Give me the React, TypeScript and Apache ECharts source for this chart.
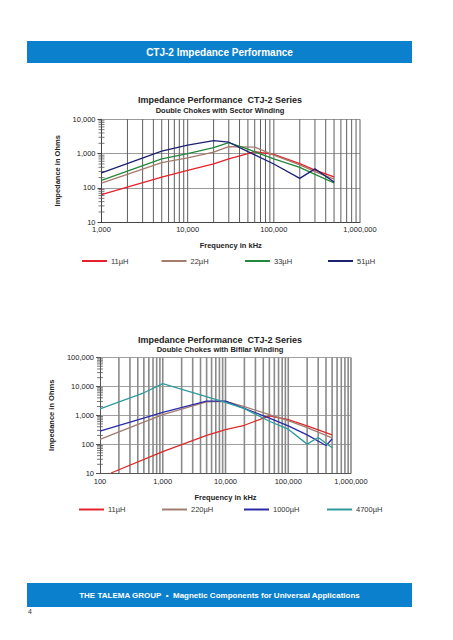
import React, { useEffect, useRef } from "react";
import * as echarts from "echarts";

// ---- Top chart: Double Chokes with Sector Winding ----
const top11F = [1000, 5000, 10000, 20000, 30000, 50000, 60000, 100000, 200000, 300000, 500000];
const top11Z = [64, 208, 323, 500, 700, 1000, 1150, 950, 510, 330, 210];
const top22F = [1000, 5000, 10000, 20000, 30000, 60000, 100000, 200000, 300000, 500000];
const top22Z = [139, 550, 750, 1100, 1600, 1550, 900, 470, 300, 180];
const top33F = [1000, 5000, 10000, 20000, 30000, 50000, 100000, 200000, 300000, 500000];
const top33Z = [166, 700, 1000, 1500, 2100, 1350, 700, 400, 250, 140];
const top51F = [1000, 5000, 10000, 20000, 30000, 50000, 100000, 200000, 300000, 500000];
const top51Z = [277, 1180, 1760, 2400, 2150, 1150, 500, 190, 360, 150];

// ---- Bottom chart: Double Chokes with Bifilar Winding ----
const bot11F = [150, 1000, 5000, 10000, 20000, 50000, 100000, 200000, 500000];
const bot11Z = [10, 55, 200, 320, 450, 950, 700, 430, 210];
const bot220F = [100, 1000, 5000, 10000, 20000, 50000, 100000, 200000, 500000];
const bot220Z = [145, 1050, 2900, 3000, 2000, 1050, 650, 370, 165];
const bot1000F = [100, 1000, 5000, 10000, 50000, 100000, 200000, 400000, 500000];
const bot1000Z = [280, 1250, 3100, 3100, 800, 430, 210, 90, 150];
const bot4700F = [100, 500, 1000, 10000, 20000, 50000, 100000, 200000, 300000, 500000];
const bot4700Z = [1650, 6000, 12500, 2800, 1700, 620, 330, 100, 170, 75];

const topNames = ["11µH", "22µH", "33µH", "51µH"];
const botNames = ["11µH", "220µH", "1000µH", "4700µH"];

const FONT = "'Liberation Sans', Arial, sans-serif";

const zip = (f: number[], z: number[]) => f.map((v, i) => [v, z[i]]);

const fmt = (v: number) => Math.round(v).toLocaleString("en-US");

function gridRenderer(xMin: number, xMax: number, yMin: number, yMax: number, vColor: string, vWidth: number) {
  return (params: any, api: any) => {
    const children: any[] = [];
    for (let d = xMin; d < xMax * 10; d *= 10) {
      for (let m = 1; m <= 9; m++) {
        const v = d * m;
        if (v <= xMin || v > xMax) continue;
        const p1 = api.coord([v, yMin]);
        const p2 = api.coord([v, yMax]);
        children.push({
          type: "line",
          shape: { x1: p1[0], y1: p1[1], x2: p2[0], y2: p2[1] },
          style: { stroke: vColor, lineWidth: vWidth },
        });
      }
    }
    for (let d = yMin; d < yMax; d *= 10) {
      for (let m = 2; m <= 9; m++) {
        const p = api.coord([xMin, d * m]);
        children.push({
          type: "line",
          shape: { x1: p[0] - 3, y1: p[1], x2: p[0] + 3, y2: p[1] },
          style: { stroke: "#555", lineWidth: 0.8 },
        });
      }
    }
    return { type: "group", children };
  };
}

function lineSeries(name: string, f: number[], z: number[], color: string, idx: number) {
  return {
    type: "line",
    name,
    data: zip(f, z),
    xAxisIndex: idx,
    yAxisIndex: idx,
    symbol: "none",
    lineStyle: { color, width: 1.3 },
    itemStyle: { color },
    z: 3,
  };
}

function legendItem(name: string, left: number, top: number) {
  return {
    data: [name],
    left,
    top,
    icon: "rect",
    itemWidth: 25,
    itemHeight: 2,
    itemGap: 0,
    padding: 0,
    textStyle: { fontSize: 7.5, color: "#333", fontFamily: FONT, padding: [0, 0, 0, -1] },
    selectedMode: false,
  };
}

const axisLabelStyle = { fontSize: 7.5, color: "#222", fontFamily: FONT };
const nameStyle = { fontSize: 7.5, color: "#222", fontWeight: "bold" as const, fontFamily: FONT };

export default function App() {
  const ref = useRef<HTMLDivElement>(null);
  useEffect(() => {
    if (!ref.current) return;
    const chart = echarts.init(ref.current, null, { renderer: "svg" });
    const topColors = ["#e5222c", "#a57b6b", "#24893b", "#1c216f"];
    const botColors = ["#dc2a2a", "#a27c72", "#2b2ba8", "#2f9b9b"];
    const option: any = {
      animation: false,
      backgroundColor: "#fff",
      textStyle: { fontFamily: FONT },
      grid: [
        { left: 101.5, top: 119.3, width: 258.5, height: 103, containLabel: false },
        { left: 100, top: 357.5, width: 251, height: 115.5, containLabel: false },
      ],
      xAxis: [
        {
          type: "log", logBase: 10, min: 1000, max: 1000000, gridIndex: 0,
          name: "Frequency in kHz", nameLocation: "middle", nameGap: 19, nameTextStyle: nameStyle,
          axisLine: { show: true, lineStyle: { color: "#444", width: 1 } },
          axisTick: { show: false },
          axisLabel: { ...axisLabelStyle, margin: 3.5, formatter: fmt },
          splitLine: { show: false },
          minorTick: { show: false }, minorSplitLine: { show: false },
        },
        {
          type: "log", logBase: 10, min: 100, max: 1000000, gridIndex: 1,
          name: "Frequency in kHz", nameLocation: "middle", nameGap: 20, nameTextStyle: nameStyle,
          axisLine: { show: true, lineStyle: { color: "#555", width: 1 } },
          axisTick: { show: false },
          axisLabel: { ...axisLabelStyle, margin: 4, formatter: fmt },
          splitLine: { show: false },
          minorTick: { show: false }, minorSplitLine: { show: false },
        },
      ],
      yAxis: [
        {
          type: "log", logBase: 10, min: 10, max: 10000, gridIndex: 0,
          name: "Impedance in Ohms", nameLocation: "middle", nameGap: 40, nameTextStyle: nameStyle,
          axisLine: { show: true, lineStyle: { color: "#444", width: 1 } },
          axisTick: { show: true, length: 4, lineStyle: { color: "#444" } },
          axisLabel: { ...axisLabelStyle, margin: 6, formatter: fmt },
          splitLine: { show: true, lineStyle: { color: "#9a9a9a", width: 1 } },
        },
        {
          type: "log", logBase: 10, min: 10, max: 100000, gridIndex: 1,
          name: "Impedance in Ohms", nameLocation: "middle", nameGap: 38, nameTextStyle: nameStyle,
          axisLine: { show: true, lineStyle: { color: "#555", width: 1 } },
          axisTick: { show: true, length: 4, lineStyle: { color: "#555" } },
          axisLabel: { ...axisLabelStyle, margin: 6, formatter: fmt },
          splitLine: { show: true, lineStyle: { color: "#a0a0a0", width: 1 } },
        },
      ],
      legend: [
        legendItem(topNames[0], 82, 257),
        legendItem(topNames[1], 161.5, 257),
        legendItem(topNames[2], 245, 257),
        legendItem(topNames[3], 328, 257),
        legendItem(botNames[0], 79, 505.5),
        legendItem(botNames[1], 162, 505.5),
        legendItem(botNames[2], 244, 505.5),
        legendItem(botNames[3], 327, 505.5),
      ],
      series: [
        {
          type: "custom", xAxisIndex: 0, yAxisIndex: 0, data: [[1000, 10]], z: 1, silent: true,
          renderItem: gridRenderer(1000, 1000000, 10, 10000, "#5e5e5e", 1),
        },
        {
          type: "custom", xAxisIndex: 1, yAxisIndex: 1, data: [[100, 10]], z: 1, silent: true,
          renderItem: gridRenderer(100, 1000000, 10, 100000, "#8a8a8a", 1.6),
        },
        lineSeries(topNames[0], top11F, top11Z, topColors[0], 0),
        lineSeries(topNames[1], top22F, top22Z, topColors[1], 0),
        lineSeries(topNames[2], top33F, top33Z, topColors[2], 0),
        lineSeries(topNames[3], top51F, top51Z, topColors[3], 0),
        lineSeries(botNames[0], bot11F, bot11Z, botColors[0], 1),
        lineSeries(botNames[1], bot220F, bot220Z, botColors[1], 1),
        lineSeries(botNames[2], bot1000F, bot1000Z, botColors[2], 1),
        lineSeries(botNames[3], bot4700F, bot4700Z, botColors[3], 1),
      ],
      graphic: [
        { type: "rect", shape: { x: 27, y: 41, width: 385, height: 22 }, style: { fill: "#0b80cd" } },
        {
          type: "text", x: 219.5, y: 52,
          style: { text: "CTJ-2 Impedance Performance", fill: "#fff", font: `bold 10px ${FONT}`, textAlign: "center", textVerticalAlign: "middle" },
        },
        {
          type: "text", x: 220, y: 100,
          style: { text: "Impedance Performance  CTJ-2 Series", fill: "#222", font: `bold 9px ${FONT}`, textAlign: "center", textVerticalAlign: "middle" },
        },
        {
          type: "text", x: 220, y: 110.5,
          style: { text: "Double Chokes with Sector Winding", fill: "#222", font: `bold 7.5px ${FONT}`, textAlign: "center", textVerticalAlign: "middle" },
        },
        {
          type: "text", x: 220, y: 339.5,
          style: { text: "Impedance Performance  CTJ-2 Series", fill: "#222", font: `bold 9px ${FONT}`, textAlign: "center", textVerticalAlign: "middle" },
        },
        {
          type: "text", x: 220, y: 349.5,
          style: { text: "Double Chokes with Bifilar Winding", fill: "#222", font: `bold 7.5px ${FONT}`, textAlign: "center", textVerticalAlign: "middle" },
        },
        { type: "rect", shape: { x: 27, y: 583, width: 385, height: 24 }, style: { fill: "#0b80cd" } },
        {
          type: "text", x: 219.5, y: 595,
          style: { text: "THE TALEMA GROUP  •  Magnetic Components for Universal Applications", fill: "#fff", font: `bold 8px ${FONT}`, textAlign: "center", textVerticalAlign: "middle" },
        },
        {
          type: "text", x: 28, y: 611,
          style: { text: "4", fill: "#333", font: `7px ${FONT}`, textAlign: "left", textVerticalAlign: "middle" },
        },
      ],
    };
    chart.setOption(option);
    return () => chart.dispose();
  }, []);
  return (
    <div style={{ position: "absolute", left: 0, top: 0, width: 453, height: 640, background: "#fff" }}>
      <div ref={ref} style={{ width: 453, height: 640 }} />
    </div>
  );
}
